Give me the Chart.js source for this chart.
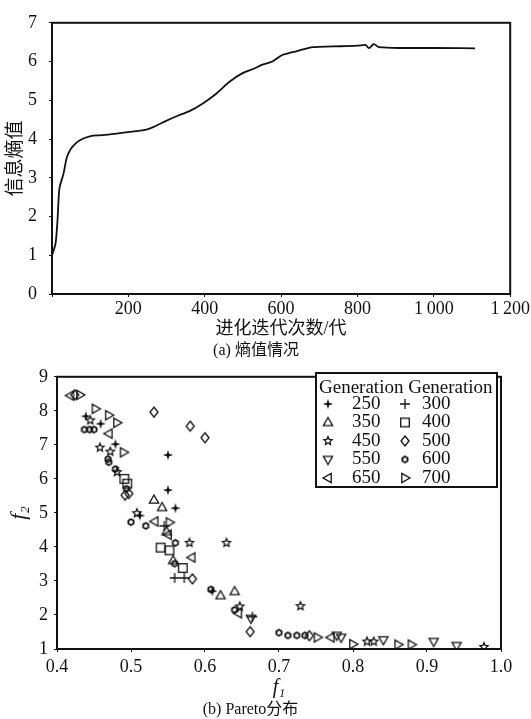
<!DOCTYPE html>
<html>
<head>
<meta charset="utf-8">
<script src="https://cdn.jsdelivr.net/npm/chart.js"></script>
<style>
  body { margin: 0; background: #fff; }
  #wrap { position: relative; width: 531px; height: 719px; }
  .box { position: absolute; left: 0; width: 531px; }
</style>
</head>
<body>
<div id="wrap">
  <div class="box" style="top:0;height:360px"><canvas id="entropy"></canvas></div>
  <div class="box" style="top:360px;height:359px"><canvas id="pareto"></canvas></div>
</div>

<script>
// ---------- (a) entropy curve ----------
const iterations = [0, 5, 10, 13, 15, 17, 19, 24, 30, 34, 38, 45, 51, 60, 73, 99, 130, 169, 210, 247,
  270, 299, 334, 360, 395, 430, 464, 499, 530, 551, 577, 603, 630, 660, 682, 734, 800, 821, 830,
  843, 856, 908, 1000, 1108];
const entropy = [1.0, 1.15, 1.35, 1.7, 2.0, 2.4, 2.68, 2.9, 3.1, 3.3, 3.5, 3.67, 3.77, 3.87, 3.97, 4.07,
  4.1, 4.14, 4.19, 4.24, 4.33, 4.47, 4.62, 4.72, 4.92, 5.17, 5.47, 5.7, 5.82, 5.92, 6.0, 6.17, 6.24,
  6.32, 6.37, 6.39, 6.41, 6.43, 6.35, 6.45, 6.37, 6.35, 6.35, 6.34];
const iterTickLabels = ['', '200', '400', '600', '800', '1\u2009000', '1\u2009200'];
const entropyTickLabels = ['0', '1', '2', '3', '4', '5', '6', '7'];

// ---------- (b) Pareto fronts, [f1, f2] ----------
const generations = ['250', '300', '350', '400', '450', '500', '550', '600', '650', '700'];
const gen250 = [[0.439, 7.84], [0.459, 7.62], [0.479, 7.02], [0.550, 6.70], [0.550, 5.67], [0.560, 5.14],
  [0.512, 4.92], [0.610, 2.70]];
const gen300 = [[0.559, 3.09], [0.572, 3.09], [0.664, 1.95], [0.545, 4.62]];
const gen350 = [[0.531, 5.38], [0.542, 5.16], [0.557, 3.60], [0.621, 2.57], [0.640, 2.69], [0.548, 4.45]];
const gen400 = [[0.491, 6.00], [0.495, 5.86], [0.540, 3.98], [0.552, 3.90], [0.570, 3.38]];
const gen450 = [[0.445, 7.72], [0.458, 6.92], [0.472, 6.80], [0.481, 6.20], [0.508, 4.99], [0.579, 4.12],
  [0.629, 4.12], [0.647, 2.25], [0.729, 2.26], [0.819, 1.22], [0.828, 1.22], [0.977, 1.06]];
const gen500 = [[0.424, 8.47], [0.531, 7.96], [0.580, 7.55], [0.600, 7.21], [0.497, 5.57], [0.492, 5.52],
  [0.583, 3.06], [0.661, 1.51], [0.741, 1.39]];
const gen550 = [[0.662, 1.90], [0.784, 1.34], [0.778, 1.40], [0.841, 1.27], [0.909, 1.22], [0.940, 1.10]];
const gen600 = [[0.437, 7.45], [0.444, 7.45], [0.450, 7.45], [0.469, 6.58], [0.470, 6.49], [0.479, 6.29],
  [0.494, 5.71], [0.500, 4.73], [0.520, 4.62], [0.560, 4.12], [0.559, 3.51], [0.608, 2.75], [0.640, 2.15],
  [0.700, 1.48], [0.712, 1.40], [0.724, 1.40], [0.735, 1.40]];
const gen650 = [[0.418, 8.45], [0.470, 7.33], [0.532, 4.75], [0.550, 4.36], [0.582, 3.69], [0.770, 1.34],
  [0.645, 2.05]];
const gen700 = [[0.431, 8.47], [0.452, 8.06], [0.470, 7.87], [0.481, 7.65], [0.490, 6.78], [0.552, 4.72],
  [0.752, 1.34], [0.800, 1.14], [0.861, 1.13], [0.879, 1.13]];
const f1TickLabels = ['0.4', '0.5', '0.6', '0.7', '0.8', '0.9', '1.0'];
const f2TickLabels = ['1', '2', '3', '4', '5', '6', '7', '8', '9'];

const serif = '"Liberation Serif", "Noto Sans CJK SC", serif';
const ink = '#111';

// small canvases used as point styles
function marker(kind) {
  const c = document.createElement('canvas');
  c.width = 14; c.height = 14;
  const g = c.getContext('2d');
  g.strokeStyle = ink; g.fillStyle = ink; g.lineWidth = 1.3;
  g.translate(7, 7);
  const tri = (rot) => {
    g.rotate(rot);
    g.beginPath(); g.moveTo(0, -5); g.lineTo(4.6, 3.2); g.lineTo(-4.6, 3.2); g.closePath(); g.stroke();
  };
  const star = (n, ro, ri) => {
    g.beginPath();
    for (let i = 0; i < n * 2; i++) {
      const a = i * Math.PI / n - Math.PI / 2, r = i % 2 ? ri : ro;
      g.lineTo(Math.cos(a) * r, Math.sin(a) * r);
    }
    g.closePath();
  };
  switch (kind) {
    case '250': star(4, 5.2, 1.6); g.fill(); break;
    case '300': g.beginPath(); g.moveTo(-5, 0); g.lineTo(5, 0); g.moveTo(0, -5); g.lineTo(0, 5); g.stroke(); break;
    case '350': tri(0); break;
    case '400': g.strokeRect(-4.3, -4.3, 8.6, 8.6); break;
    case '450': star(5, 4.3, 2); g.stroke(); break;
    case '500': g.beginPath(); g.moveTo(0, -5); g.lineTo(4, 0); g.lineTo(0, 5); g.lineTo(-4, 0); g.closePath(); g.stroke(); break;
    case '550': tri(Math.PI); break;
    case '600': g.lineWidth = 1.8; star(3, 3, 3); g.stroke(); break;
    case '650': tri(-Math.PI / 2); break;
    case '700': tri(Math.PI / 2); break;
  }
  return c;
}

const frame = {
  id: 'frame',
  afterDraw(chart) {
    const { ctx, chartArea: a } = chart;
    ctx.save();
    ctx.strokeStyle = ink; ctx.lineWidth = 2;
    ctx.strokeRect(a.left, a.top, a.right - a.left, a.bottom - a.top);
    ctx.restore();
  }
};

// two-column legend drawn into the top right of the plot
const genLegend = {
  id: 'genLegend',
  afterDraw(chart) {
    const { ctx } = chart;
    const x0 = 316, y0 = 13, w = 181, h = 114;
    ctx.save();
    ctx.fillStyle = '#fff';
    ctx.fillRect(x0, y0, w, h);
    ctx.strokeStyle = ink; ctx.lineWidth = 2;
    ctx.strokeRect(x0, y0, w, h);
    ctx.fillStyle = ink;
    ctx.font = '19px ' + serif;
    ctx.textBaseline = 'middle';
    ctx.fillText('Generation Generation', x0 + 3, y0 + 15);
    chart.data.datasets.forEach((ds, i) => {
      const col = i % 2, row = Math.floor(i / 2);
      const y = y0 + 31 + row * 18.5;
      const mx = col ? 405 : 328;
      ctx.drawImage(ds.pointStyle, mx - 7, y - 7);
      ctx.fillText(ds.label, col ? 422 : 352, y);
    });
    ctx.restore();
  }
};

function axisGrid() {
  return { display: true, drawOnChartArea: false, drawTicks: true, tickLength: 3, color: ink };
}

new Chart(document.getElementById('entropy'), {
  type: 'scatter',
  data: {
    datasets: [{
      data: iterations.map((x, i) => ({ x: x, y: entropy[i] })),
      showLine: true,
      borderColor: ink,
      borderWidth: 1.8,
      pointRadius: 0,
      cubicInterpolationMode: 'monotone'
    }]
  },
  options: {
    responsive: true,
    maintainAspectRatio: false,
    animation: false,
    layout: { padding: { top: 13, right: 19, left: 0, bottom: 0 } },
    plugins: {
      legend: { display: false },
      tooltip: { enabled: false },
      title: {
        display: true, position: 'bottom', text: '(a) 熵值情况', color: ink,
        font: { family: serif, size: 16, weight: 'normal' }, padding: { top: 0, bottom: 0 }
      }
    },
    scales: {
      x: {
        type: 'linear', min: 0, max: 1200,
        grid: axisGrid(), border: { display: false },
        ticks: {
          stepSize: 200, color: ink, padding: 1, maxRotation: 0,
          font: { family: serif, size: 18 },
          callback: (v, i) => iterTickLabels[i]
        },
        title: {
          display: true, text: '进化迭代次数/代', color: ink,
          font: { family: serif, size: 18 }, padding: { top: 0, bottom: 1 }
        },
        afterFit: s => { s.height = 46.8; }
      },
      y: {
        min: 0, max: 7,
        grid: axisGrid(), border: { display: false },
        ticks: {
          stepSize: 1, color: ink, padding: 12,
          font: { family: serif, size: 18 },
          callback: (v, i) => entropyTickLabels[i]
        },
        title: {
          display: true, text: '信息熵值', color: ink,
          font: { family: serif, size: 19 }, padding: { top: 5, bottom: 0 }
        },
        afterFit: s => { s.width = 52; }
      }
    }
  },
  plugins: [frame]
});

const genData = [gen250, gen300, gen350, gen400, gen450, gen500, gen550, gen600, gen650, gen700];

new Chart(document.getElementById('pareto'), {
  type: 'scatter',
  data: {
    datasets: generations.map((g, i) => ({
      label: g,
      data: genData[i].map(p => ({ x: p[0], y: p[1] })),
      pointStyle: marker(g),
      pointRadius: 5
    }))
  },
  options: {
    responsive: true,
    maintainAspectRatio: false,
    animation: false,
    layout: { padding: { top: 13, right: 30, left: 0, bottom: 0 } },
    plugins: {
      legend: { display: false },
      tooltip: { enabled: false },
      title: {
        display: true, position: 'bottom', text: '(b) Pareto分布', color: ink,
        font: { family: serif, size: 16, weight: 'normal' }, padding: { top: 0, bottom: 0 }
      }
    },
    scales: {
      x: {
        type: 'linear', min: 0.4, max: 1.0,
        grid: axisGrid(), border: { display: false },
        ticks: {
          stepSize: 0.1, color: ink, padding: 4, maxRotation: 0,
          font: { family: serif, size: 18 },
          callback: (v, i) => f1TickLabels[i]
        },
        title: {
          display: true, text: 'f\u2081', color: ink,
          font: { family: serif, size: 20, style: 'italic' }, padding: { top: 0, bottom: 0 }
        },
        afterFit: s => { s.height = 50.8; }
      },
      y: {
        min: 1, max: 9,
        grid: axisGrid(), border: { display: false },
        ticks: {
          stepSize: 1, color: ink, padding: 6,
          font: { family: serif, size: 18 },
          callback: (v, i) => f2TickLabels[i]
        },
        title: {
          display: true, text: 'f\u2082', color: ink,
          font: { family: serif, size: 22, style: 'italic' }, padding: { top: 6, bottom: 0 }
        },
        afterFit: s => { s.width = 57; }
      }
    }
  },
  plugins: [frame, genLegend]
});
</script>
</body>
</html>
